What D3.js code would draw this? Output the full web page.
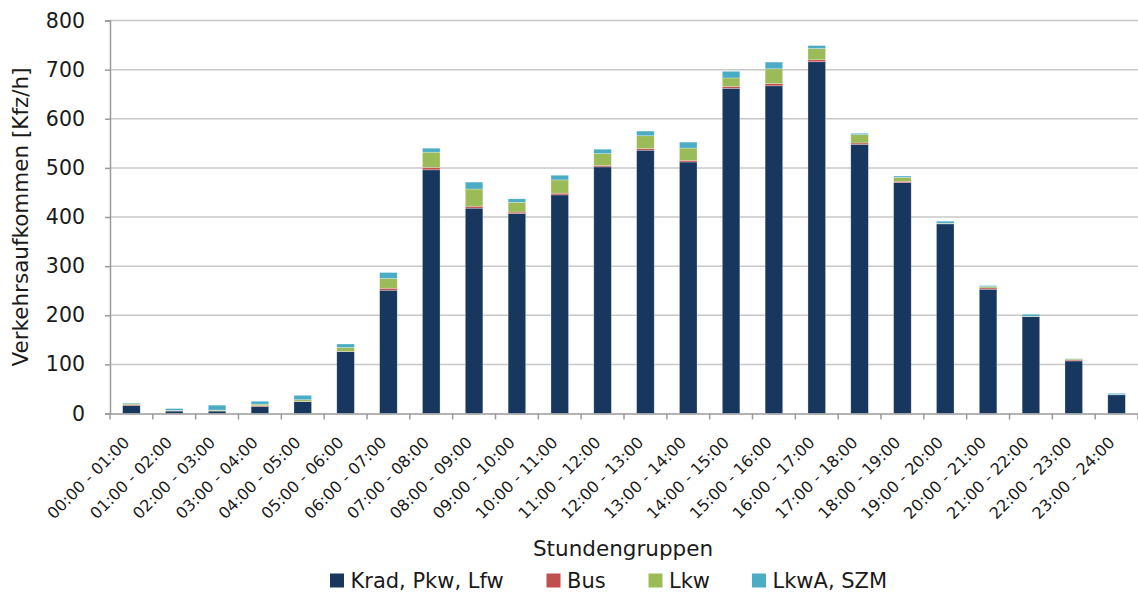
<!DOCTYPE html>
<html>
<head>
<meta charset="utf-8">
<script src="https://cdn.jsdelivr.net/npm/d3@7"></script>
<style>
  body { margin: 0; background: #fff; }
  svg text { font-family: "DejaVu Sans", sans-serif; fill: #1a1a1a; }
</style>
</head>
<body>
<div id="chart"></div>
<script>
// hour groups
const hours = ["00:00 - 01:00","01:00 - 02:00","02:00 - 03:00","03:00 - 04:00","04:00 - 05:00",
  "05:00 - 06:00","06:00 - 07:00","07:00 - 08:00","08:00 - 09:00","09:00 - 10:00",
  "10:00 - 11:00","11:00 - 12:00","12:00 - 13:00","13:00 - 14:00","14:00 - 15:00",
  "15:00 - 16:00","16:00 - 17:00","17:00 - 18:00","18:00 - 19:00","19:00 - 20:00",
  "20:00 - 21:00","21:00 - 22:00","22:00 - 23:00","23:00 - 24:00"];

// vehicle classes, values (Kfz/h)
const seriesNames = ["Krad, Pkw, Lfw", "Bus", "Lkw", "LkwA, SZM"];
const kradPkwLfw = [16,5,5,14,24,126,251,496,418,407,445,502,536,512,662,667,716,548,470,386,253,197,107,38];
const bus        = [2,0.5,0.5,2,1,0.5,4,5,4,3,3.5,3,3.4,3.4,4,4.7,4,2.7,2.7,0.5,2.7,0.5,2,0];
const lkw        = [2,1,1.5,3,3,8,20,31,35,20,27,24,26,25,17,30,23,17,8,1,2.7,0.5,2,0.5];
const lkwASzm    = [1.5,3.5,10,6,9,7,12,8,14,7,9.5,9,9.5,12,13.6,13.6,6,2.7,2.7,4,2,4,0.5,2.5];
const yTicks = [0,100,200,300,400,500,600,700,800];

const colors = ["#17375E", "#C0504D", "#9BBB59", "#4BACC6"];

const W = 1138, H = 593;
const margin = { top: 20.5, right: 0, bottom: 179.5, left: 110 };
const width = W - margin.left - margin.right;
const height = H - margin.top - margin.bottom;

// build a table for the stack layout
const rows = hours.map((h, i) => ({
  hour: h,
  [seriesNames[0]]: kradPkwLfw[i],
  [seriesNames[1]]: bus[i],
  [seriesNames[2]]: lkw[i],
  [seriesNames[3]]: lkwASzm[i]
}));
const stacked = d3.stack().keys(seriesNames)(rows);

const svg = d3.select("#chart").append("svg")
  .attr("width", W).attr("height", H);

const g = svg.append("g")
  .attr("transform", "translate(" + margin.left + "," + margin.top + ")");

const x = d3.scaleBand().domain(hours).range([0, width]).padding(0);
const y = d3.scaleLinear().domain([0, 800]).range([height, 0]);
const barW = x.bandwidth() * 0.41;

// gridlines
g.append("g")
  .selectAll("line")
  .data(yTicks.filter(t => t > 0))
  .enter().append("line")
  .attr("x1", 0).attr("x2", width)
  .attr("y1", d => y(d)).attr("y2", d => y(d))
  .attr("stroke", "#c8c8c8").attr("stroke-width", 1.5);

// stacked bars
g.append("g")
  .selectAll("g")
  .data(stacked)
  .enter().append("g")
  .attr("fill", (d, i) => colors[i])
  .selectAll("rect")
  .data(d => d)
  .enter().append("rect")
  .attr("x", d => x(d.data.hour) + (x.bandwidth() - barW) / 2)
  .attr("y", d => y(d[1]))
  .attr("width", barW)
  .attr("height", d => Math.max(0, y(d[0]) - y(d[1])))
  .attr("stroke", "#ffffff").attr("stroke-opacity", 0.45).attr("stroke-width", 0.6);

// y axis
const yAxis = g.append("g")
  .call(d3.axisLeft(y).tickValues(yTicks).tickSize(5).tickPadding(20));
yAxis.select(".domain").attr("stroke", "#9a9a9a").attr("stroke-width", 1.5);
yAxis.selectAll(".tick line").attr("stroke", "#9a9a9a").attr("stroke-width", 1.5);
yAxis.selectAll("text").attr("font-size", "20.5px").attr("fill", "#1a1a1a")
  .style("font-family", "'DejaVu Sans', sans-serif");

// x axis (labels at band centres, ticks at band boundaries)
const xAxis = g.append("g")
  .attr("transform", "translate(0," + height + ")")
  .call(d3.axisBottom(x).tickSize(0).tickPadding(0));
xAxis.select(".domain").attr("stroke", "#9a9a9a").attr("stroke-width", 1.5);
xAxis.selectAll("text")
  .attr("font-size", "16px")
  .attr("fill", "#1a1a1a")
  .style("font-family", "'DejaVu Sans', sans-serif")
  .attr("text-anchor", "end")
  .attr("dy", "0")
  .attr("transform", "translate(-1,30) rotate(-45)");

xAxis.append("g")
  .selectAll("line")
  .data(hours.map(h => x(h)).concat([width]))
  .enter().append("line")
  .attr("x1", d => d).attr("x2", d => d)
  .attr("y1", 0).attr("y2", 6)
  .attr("stroke", "#9a9a9a").attr("stroke-width", 1.5);

// axis titles
svg.append("text")
  .attr("transform", "rotate(-90)")
  .attr("x", -(margin.top + height / 2))
  .attr("y", 28)
  .attr("text-anchor", "middle")
  .attr("font-size", "21.5px")
  .text("Verkehrsaufkommen [Kfz/h]");

svg.append("text")
  .attr("x", 623)
  .attr("y", 556)
  .attr("text-anchor", "middle")
  .attr("font-size", "21.5px")
  .text("Stundengruppen");

// legend
const legendX = [330, 546.5, 648.5, 752];
const legend = svg.append("g")
  .selectAll("g")
  .data(seriesNames)
  .enter().append("g")
  .attr("transform", (d, i) => "translate(" + legendX[i] + ",573.5)");
legend.append("rect")
  .attr("width", 14).attr("height", 14)
  .attr("fill", (d, i) => colors[i]);
legend.append("text")
  .attr("x", 20.5).attr("y", 14)
  .attr("font-size", "21px")
  .text(d => d);
</script>
</body>
</html>
